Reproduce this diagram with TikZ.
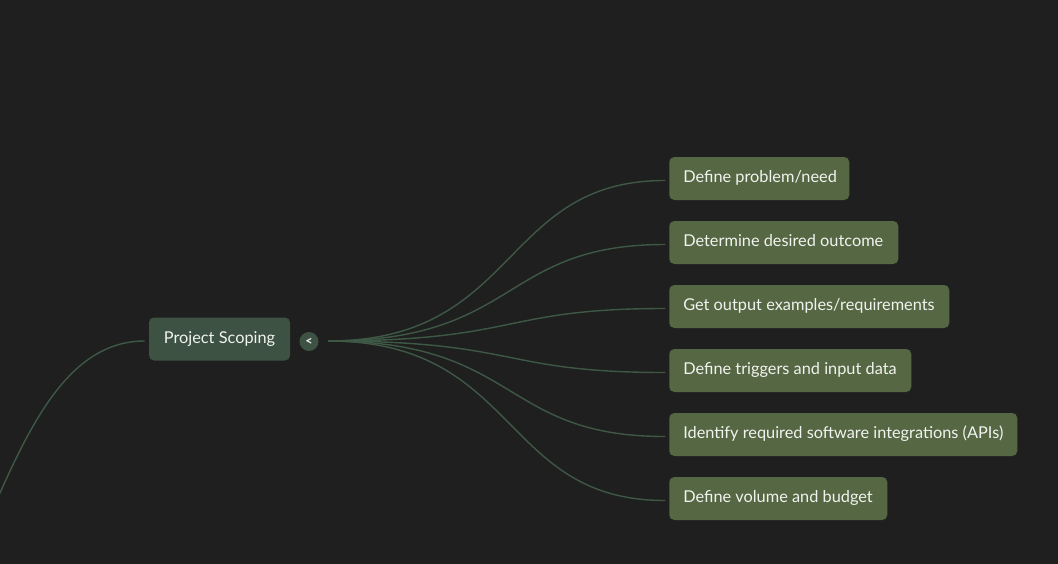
\documentclass[tikz,border=0pt]{standalone}
\usepackage{fontspec}
\setmainfont{Lato}
\newlength\pxu
\setlength\pxu{0.75pt}
\definecolor{bgc}{HTML}{1F1F1F}
\definecolor{rootfill}{HTML}{3D5243}
\definecolor{leaffill}{HTML}{556743}
\definecolor{linec}{HTML}{3E5846}
\definecolor{txtc}{HTML}{F1F3EF}
\newcommand{\lbl}[2]{\makebox[#1\pxu][l]{#2}}
\tikzset{
  rootbox/.style={fill=rootfill, rounded corners=5\pxu, minimum width=141\pxu, minimum height=43\pxu,
    text=txtc, font=\fontsize{12.25pt}{13pt}\selectfont, inner sep=0pt, text height=8.5pt, text depth=2.4pt},
  leafbox/.style={fill=leaffill, rounded corners=5\pxu, minimum height=43\pxu, anchor=west,
    text=txtc, font=\fontsize{12.25pt}{13pt}\selectfont, inner xsep=14\pxu, inner ysep=0pt,
    text height=8.5pt, text depth=2.4pt},
  toggle/.style={circle, fill=rootfill, minimum size=19\pxu, inner sep=0pt, text=txtc,
    font=\bfseries\fontsize{9.5pt}{10pt}\selectfont},
  link/.style={draw=linec, line width=1.4\pxu}
}
\begin{document}
\begin{tikzpicture}[x=\pxu,y=-\pxu]
\fill[bgc] (0,0) rectangle (1058,564);
\useasboundingbox (0,0) rectangle (1058,564);
\clip (0,0) rectangle (1058,564);

\node[rootbox] (ps) at (219.5,339) {Project Scoping};
\node[toggle] (tg) at (309,341.5) {<};
\coordinate (hub) at (328,341);
\coordinate (parent) at (-170,700);

\node[leafbox] (b1) at (669,178.5) {\lbl{152}{Define problem/need}};
\node[leafbox] (b2) at (669,242.5) {\lbl{201}{Determine desired outcome}};
\node[leafbox] (b3) at (669,306.5) {\lbl{252}{Get output examples/requirements}};
\node[leafbox] (b4) at (669,370.5) {\lbl{214}{Define triggers and input data}};
\node[leafbox] (b5) at (669,434.5) {\lbl{320}{Identify required software integrations (APIs)}};
\node[leafbox] (b6) at (669,498.5) {\lbl{190}{Define volume and budget}};

\draw[link] ([xshift=-4\pxu,yshift=-2\pxu]ps.west) .. controls (-12,341) and (-12,700) .. (parent);

\foreach \b in {b1,b2,b3,b4,b5,b6}{
  \draw[link] (hub) .. controls +(192,0) and ([xshift=-169\pxu,yshift=-2\pxu]\b.west) .. ([xshift=-4\pxu,yshift=-2\pxu]\b.west);
}
\end{tikzpicture}
\end{document}
